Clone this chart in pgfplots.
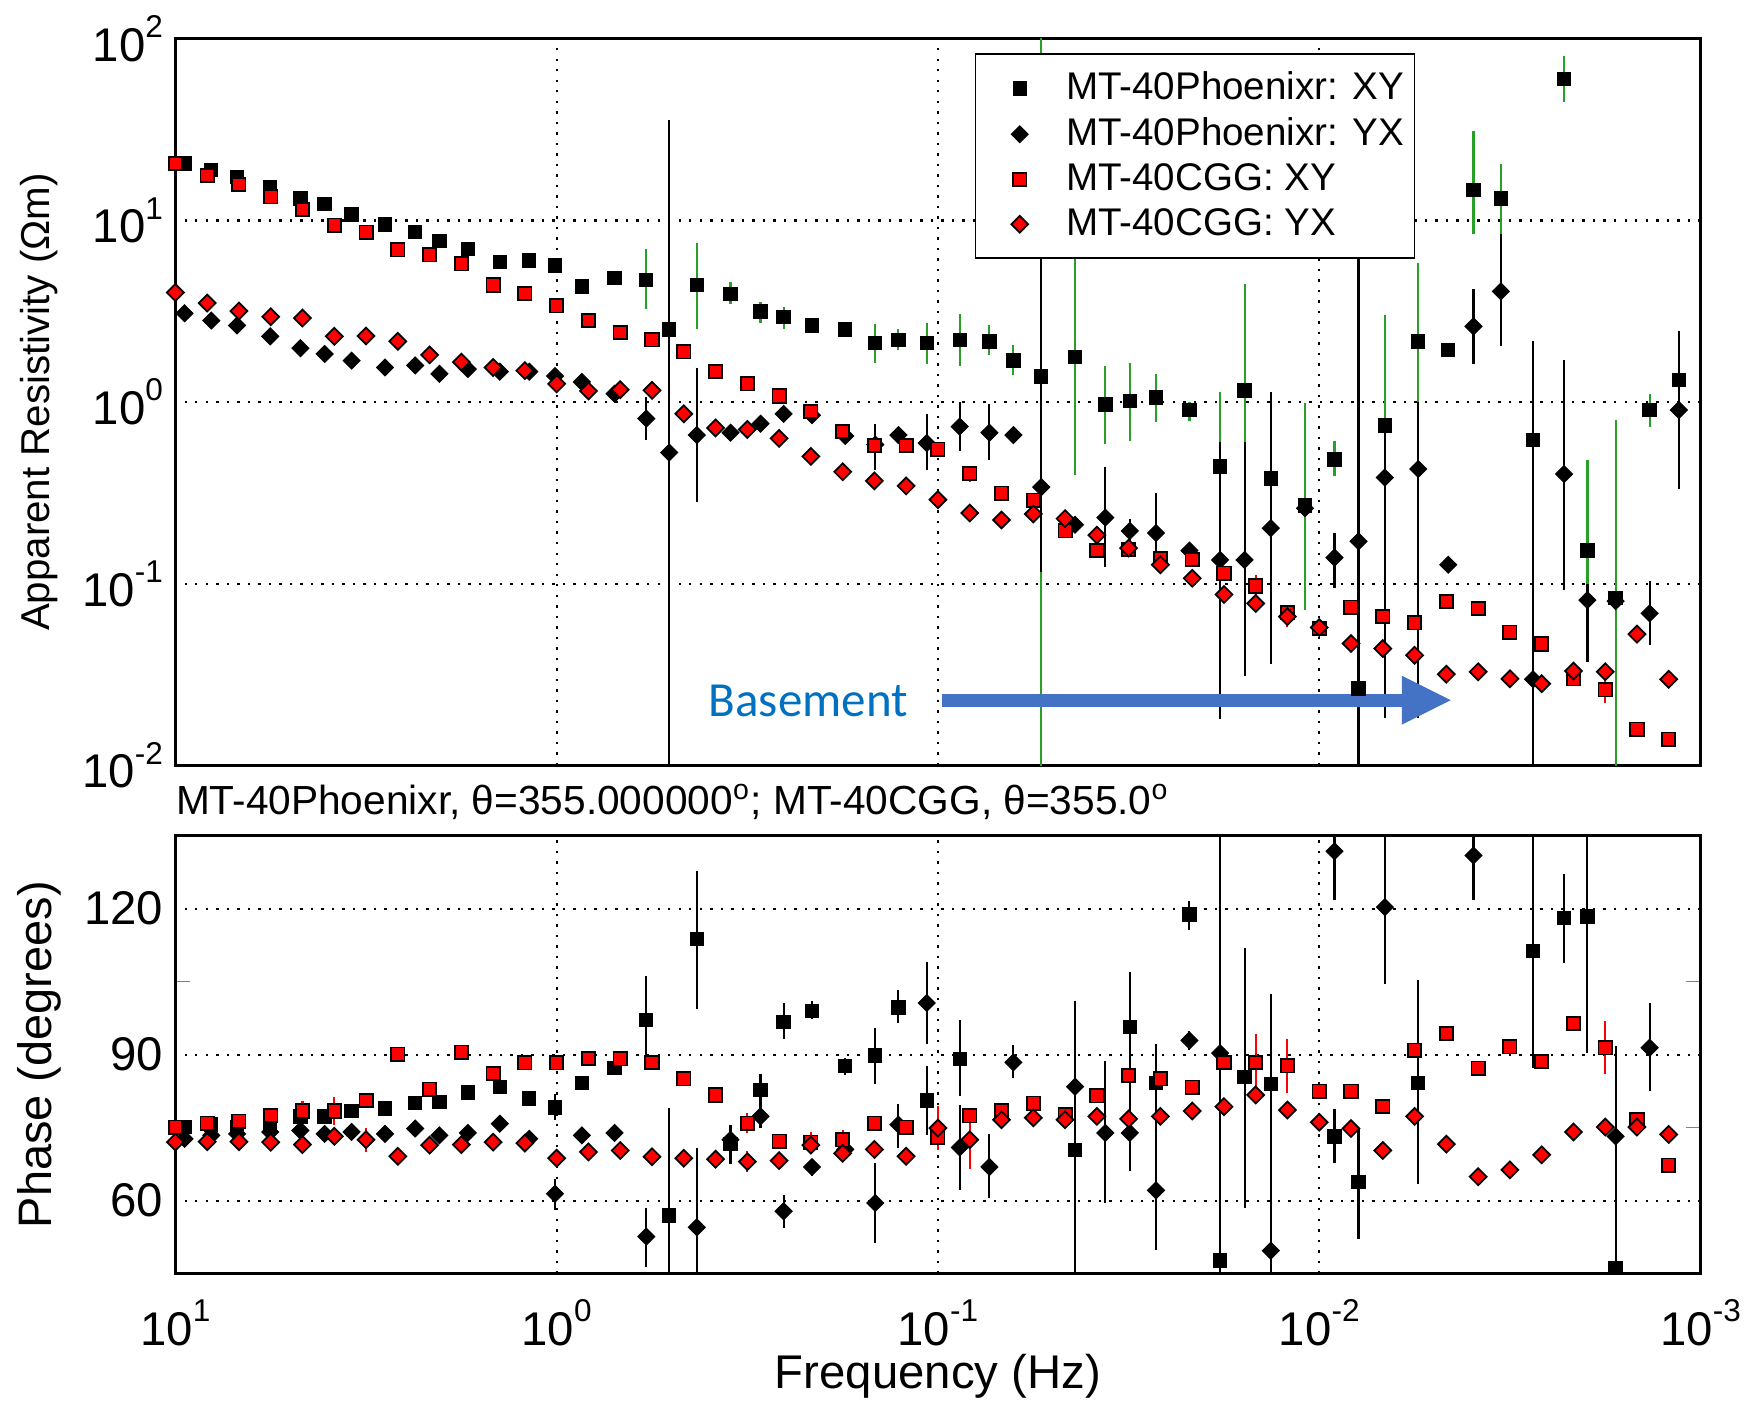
\documentclass[border=0pt]{standalone}
\usepackage{fontspec}
\setmainfont{Liberation Sans}
\newfontfamily\calibri{Carlito}
\usepackage{pgfplots}
\pgfplotsset{compat=1.18}
\usepackage{pgfplotstable}
\usetikzlibrary{arrows.meta}
\definecolor{errgreen}{RGB}{40,160,40}
\definecolor{basetext}{RGB}{0,112,192}
\definecolor{basearrow}{RGB}{68,114,196}
\newcommand{\tp}[1]{10\raisebox{0.5em}{\fontsize{9}{9}\selectfont #1}}

% Phoenix (black): f, rho XY (lo,hi), rho YX (lo,hi), phase XY (lo,hi), phase YX (lo,hi)
\pgfplotstableread{
f rxy rxylo rxyhi ryx ryxlo ryxhi pxy pxylo pxyhi pyx pyxlo pyxhi
9.46 20.6 20.6 20.6 3.08 3.08 3.08 75.1 75.1 75.1 72.7 72.7 72.7
8.05 19.0 19.0 19.0 2.81 2.81 2.81 75.6 75.6 75.6 73.4 73.4 73.4
6.89 17.3 17.3 17.3 2.64 2.64 2.64 75.1 75.1 75.1 73.7 73.7 73.7
5.64 15.2 15.2 15.2 2.30 2.30 2.30 75.8 75.8 75.8 74.1 74.1 74.1
4.70 13.2 13.2 13.2 1.98 1.98 1.98 77.3 77.3 77.3 74.4 74.4 74.4
4.06 12.3 12.3 12.3 1.84 1.84 1.84 77.3 77.3 77.3 73.7 73.7 73.7
3.45 10.8 10.8 10.8 1.69 1.69 1.69 78.4 78.4 78.4 74.1 74.1 74.1
2.82 9.48 9.48 9.48 1.55 1.55 1.55 78.9 78.9 78.9 73.7 73.7 73.7
2.35 8.67 8.67 8.67 1.59 1.59 1.59 80.0 80.0 80.0 74.8 74.8 74.8
2.03 7.73 7.73 7.73 1.43 1.43 1.43 80.3 80.3 80.3 73.4 73.4 73.4
1.71 6.95 6.95 6.95 1.52 1.52 1.52 82.2 82.2 82.2 73.9 73.9 73.9
1.41 5.91 5.91 5.91 1.47 1.47 1.47 83.3 83.3 83.3 75.8 75.8 75.8
1.18 6.01 6.01 6.01 1.47 1.47 1.47 81.0 81.0 81.0 72.7 72.7 72.7
1.01 5.66 5.66 5.66 1.39 1.39 1.39 79.1 76.5 82.0 61.4 58.1 64.4
0.859 4.33 4.33 4.33 1.29 1.29 1.29 84.2 84.2 84.2 73.4 73.4 73.4
0.705 4.82 4.82 4.82 1.11 1.11 1.11 87.2 87.2 87.2 73.9 73.9 73.9
0.582 4.71 3.27 6.98 0.811 0.62 1.06 97.1 88.3 106.1 52.6 46.4 58.5
0.507 2.51 2.51 2.51 0.527 0.001 35.7 56.9 40 79.1 nan nan nan
0.429 4.41 2.53 7.50 0.658 0.28 1.54 113.7 99.4 127.8 54.5 40 70.9
0.350 3.94 3.45 4.59 0.678 0.678 0.678 71.6 67.5 75.6 72.5 72.5 72.5
0.292 3.15 2.73 3.57 0.760 0.760 0.760 82.7 78.5 86.0 77.3 74.9 80.0
0.254 2.95 2.53 3.35 0.861 0.861 0.861 96.7 93.1 100.7 57.8 54.3 61.2
0.214 2.64 2.64 2.64 0.846 0.846 0.846 99.0 97.4 101.1 66.9 65.0 68.5
0.175 2.51 2.51 2.51 0.650 0.650 0.650 87.6 85.8 89.2 70.5 70.5 70.5
0.146 2.11 1.65 2.69 0.583 0.42 0.76 89.8 84.0 95.5 59.5 51.3 67.8
0.127 2.20 1.93 2.51 0.658 0.658 0.658 99.7 96.4 103.3 75.6 70.7 79.8
0.107 2.11 1.62 2.73 0.594 0.42 0.86 80.6 73.4 87.6 100.6 92.1 109.1
0.0877 2.20 1.58 3.06 0.733 0.54 1.0 89.1 81.5 97.1 70.9 62.1 79.6
0.0733 2.15 1.82 2.64 0.678 0.48 0.97 nan nan nan 66.9 60.6 73.7
0.0634 1.69 1.41 2.07 0.658 0.658 0.658 nan nan nan 88.4 85.2 91.9
0.0536 1.38 0.001 200 0.340 0.116 6.78 nan nan nan nan nan nan
0.0437 1.77 0.395 6.78 0.211 0.211 0.211 70.4 40 101.1 83.4 83.4 83.4
0.0364 0.971 0.59 1.57 0.231 0.123 0.44 nan nan nan 73.9 59.5 88.6
0.0314 1.01 0.609 1.64 0.195 0.16 0.226 95.7 84.0 107.0 73.9 66.1 84.0
0.0268 1.06 0.78 1.43 0.190 0.123 0.316 84.2 84.2 92.2 62.1 49.8 84.2
0.0219 0.904 0.79 1.0 0.152 0.152 0.152 118.8 115.5 121.5 92.9 91.0 94.8
0.0182 0.441 0.25 1.14 0.135 0.018 0.6 47.7 40 140 90.3 90.3 90.3
0.0157 1.16 0.6 4.47 0.135 0.031 0.6 85.4 58.5 112.0 nan nan nan
0.0134 0.379 0.379 0.379 0.202 0.036 1.14 84.0 84.0 102.5 49.7 40 84.0
0.0109 0.269 0.072 0.99 0.26 0.26 0.26 nan nan nan nan nan nan
0.00912 0.482 0.39 0.61 0.139 0.095 0.19 73.2 67.8 78.8 131.8 121.7 140
0.00789 0.0265 0.0265 0.0265 0.171 0.001 6.8 63.8 52.2 74.8 nan nan nan
0.00673 0.741 0.0182 3.02 0.384 0.0182 0.74 nan nan nan 120.3 104.5 140
0.00550 2.15 1.0 5.84 0.428 0.0182 1.0 84.2 63.5 105.4 nan nan nan
0.00459 1.93 1.93 1.93 0.127 0.127 0.127 nan nan nan nan nan nan
0.00394 14.7 8.37 31.2 2.61 1.61 4.20 nan nan nan 130.9 121.7 140
0.00334 13.2 8.37 20.5 4.07 2.03 8.37 nan nan nan nan nan nan
0.00275 0.620 0.620 0.620 0.0297 0.001 2.18 111.3 87.2 140 nan nan nan
0.00228 60.1 45 81 0.401 0.0925 1.71 118.1 108.9 127.1 nan nan nan
0.00198 0.152 0.1 0.48 0.0811 0.037 0.1 118.4 90.3 140 nan nan nan
0.00167 0.0836 0.001 0.80 0.08 0.08 0.08 46.1 40 91.7 73.2 73.2 73.2
0.00136 0.904 0.73 1.11 0.0686 0.046 0.103 nan nan nan 91.4 82.5 100.7
0.00114 1.32 1.32 1.32 0.904 0.33 2.45 nan nan nan nan nan nan
}\phx

% CGG (red): f, rho XY, rho YX, errors, phase XY, phase YX, errors
\pgfplotstableread{
f rxy exy ryx eyx pxy epxy pyx epyx
10 20.6 0 4.01 0 75.1 0 72.0 0
8.254 17.7 0 3.51 0 75.9 0 72.1 0
6.813 15.8 0 3.17 0 76.3 0 72.1 0
5.623 13.5 0 2.95 0 77.5 0 72.0 0
4.642 11.5 0 2.90 0 78.4 2.0 71.5 0
3.831 9.42 0.4 2.30 0 78.4 2.8 73.2 0
3.162 8.61 0 2.31 0 80.6 0 72.5 2.5
2.610 6.90 0 2.16 0 90.1 0 69.1 0
2.154 6.46 0 1.82 0 82.9 0 71.4 0
1.778 5.77 0 1.66 0 90.5 0 71.5 0
1.468 4.41 0 1.55 0 86.1 0 72.0 0
1.212 3.96 0 1.49 0 88.3 0 71.8 0
1 3.39 0 1.26 0 88.3 0 68.7 0
0.8254 2.81 0 1.15 0 89.2 0 70.0 0
0.6813 2.41 0 1.17 0 89.1 0 70.3 0
0.5623 2.20 0 1.16 0 88.4 0 69.0 0
0.4642 1.89 0 0.861 0 85.0 0 68.7 0
0.3831 1.47 0 0.720 0 81.7 0 68.5 0
0.3162 1.26 0 0.706 0 75.9 2.0 68.0 2.2
0.2610 1.08 0 0.631 0 72.2 0 68.2 0
0.2154 0.888 0 0.502 0 72.0 2.0 71.4 0
0.1778 0.690 0 0.413 0 72.5 2.0 69.7 0
0.1468 0.577 0 0.368 0 75.9 0 70.5 0
0.1212 0.577 0 0.345 0 75.1 0 69.1 0
0.1 0.550 0.03 0.290 0 73.0 0 74.9 4.5
0.08254 0.403 0.04 0.245 0 77.4 0 72.5 6.0
0.06813 0.315 0 0.224 0 78.4 0 76.6 0
0.05623 0.288 0 0.242 0 80.0 1.0 77.0 0
0.04642 0.195 0 0.228 0 77.7 0 76.6 0
0.03831 0.152 0 0.185 0 81.5 0 77.3 0
0.03162 0.154 0 0.157 0 85.7 0 76.8 0
0.02610 0.137 0 0.127 0 85.0 0 77.3 0
0.02154 0.136 0 0.107 0 83.3 0 78.4 0
0.01778 0.114 0 0.0871 0 88.4 0 79.3 0
0.01468 0.097 0.015 0.0778 0 88.4 5.8 81.7 0
0.01212 0.069 0 0.0658 0.008 87.7 5.5 78.6 0
0.01 0.0567 0 0.0573 0 82.5 0 76.1 0
0.008254 0.0741 0 0.0468 0 82.5 0 74.8 0
0.006813 0.0658 0 0.0439 0 79.3 0 70.3 0
0.005623 0.0608 0 0.0403 0 90.9 0 77.3 0
0.004642 0.0796 0 0.0317 0 94.3 0 71.6 0
0.003831 0.0728 0 0.0327 0 87.2 0 64.9 0
0.003162 0.0540 0 0.0299 0 91.6 0 66.3 0
0.002610 0.0465 0 0.0281 0 88.6 0 69.4 0
0.002154 0.0299 0 0.0330 0 96.4 0 74.1 0
0.001778 0.0260 0.004 0.0327 0 91.4 5.4 75.1 0
0.001468 0.0158 0 0.0527 0 76.6 0 75.1 0
0.001212 0.0139 0 0.0297 0 67.3 0 73.6 0
}\cgg

\begin{document}
\begin{tikzpicture}
\begin{axis}[
  at={(0pt,0pt)}, anchor=south west,
  scale only axis, width=435.3pt, height=207.3pt,
  xmode=log, ymode=log, x dir=reverse,
  xmin=0.001, xmax=10, ymin=0.01, ymax=100,
  xtick={10,1,0.1,0.01,0.001}, xticklabels={},
  ytick={0.01,0.1,1,10,100},
  yticklabels={\tp{-2},\tp{-1},\tp{0},\tp{1},\tp{2}},
  minor xtick={}, minor ytick={},
  xmajorgrids, ymajorgrids,
  grid style={black, dash pattern=on 0.7pt off 2.3pt, line width=0.6pt},
  major tick length=0pt, minor tick length=0pt,
  axis line style={line width=0.9pt},
  tick label style={font=\fontsize{13.5}{15}\selectfont},
  ylabel={Apparent Resistivity (Ωm)},
  ylabel style={at={(axis description cs:-0.0894,0.5)}, anchor=center, font=\fontsize{11.5}{13}\selectfont},
  legend style={at={(0.524,0.98)}, anchor=north west, draw=black, line width=0.5pt,
    font=\fontsize{11}{13}\selectfont, inner xsep=1pt, inner ysep=3pt, row sep=-0.4pt, column sep=4.4pt},
  legend cell align=left,
  legend image code/.code={\path (0pt,0pt) (18pt,0pt); \draw[#1] plot coordinates {(11.4pt,0pt)};},
]
\addplot[black, only marks, mark=square*, mark size=1.9pt, mark options={fill=black, draw=black, line width=0.3pt},
  error bars/.cd, y dir=both, y explicit, error mark=none, error bar style={errgreen, line width=0.6pt}]
  table[x=f, y=rxy, y error plus expr=\thisrow{rxyhi}-\thisrow{rxy}, y error minus expr=\thisrow{rxy}-\thisrow{rxylo}] {\phx};
\addplot[black, only marks, mark=square*, mark size=1.7pt, mark options={rotate=45, fill=black, draw=black, line width=0.3pt},
  error bars/.cd, y dir=both, y explicit, error mark=none, error bar style={black, line width=0.6pt}]
  table[x=f, y=ryx, y error plus expr=\thisrow{ryxhi}-\thisrow{ryx}, y error minus expr=\thisrow{ryx}-\thisrow{ryxlo}] {\phx};
\addplot[red, only marks, mark=square*, mark size=1.9pt, mark options={fill=red, draw=black, line width=0.5pt},
  error bars/.cd, y dir=both, y explicit, error mark=none, error bar style={red, line width=0.6pt}]
  table[x=f, y=rxy, y error=exy] {\cgg};
\addplot[red, only marks, mark=square*, mark size=1.7pt, mark options={rotate=45, fill=red, draw=black, line width=0.5pt},
  error bars/.cd, y dir=both, y explicit, error mark=none, error bar style={red, line width=0.6pt}]
  table[x=f, y=ryx, y error=eyx] {\cgg};
\legend{MT-40Phoenixr: XY, MT-40Phoenixr: YX, MT-40CGG: XY, MT-40CGG: YX}
\node[font=\calibri\fontsize{14}{16}\selectfont, text=basetext] at (axis cs:0.2188,0.0226) {Basement};
\draw[basearrow, line width=3.8pt, -{Triangle[length=14.4pt, width=12.8pt]}] (axis cs:0.0977,0.0228) -- (axis cs:0.00448,0.0228);
\end{axis}

\begin{axis}[
  at={(0pt,-20.1pt)}, anchor=north west,
  scale only axis, width=435.3pt, height=125pt,
  xmode=log, x dir=reverse,
  xmin=0.001, xmax=10, ymin=45, ymax=135,
  xtick={10,1,0.1,0.01,0.001},
  xticklabels={\tp{1},\tp{0},\tp{-1},\tp{-2},\tp{-3}},
  xticklabel style={yshift=-4pt},
  minor xtick={},
  ytick={60,90,120}, yticklabels={60,90,120},
  minor ytick={75,105},
  xmajorgrids, ymajorgrids,
  grid style={black, dash pattern=on 0.7pt off 2.3pt, line width=0.6pt},
  major tick length=0pt, minor tick length=4.3pt, tick align=inside,
  axis line style={line width=0.9pt},
  tick label style={font=\fontsize{13.5}{15}\selectfont},
  xlabel={Frequency (Hz)},
  xlabel style={at={(axis description cs:0.5,-0.2336)}, anchor=center, font=\fontsize{13.5}{15}\selectfont},
  ylabel={Phase (degrees)},
  ylabel style={at={(axis description cs:-0.0894,0.5)}, anchor=center, font=\fontsize{13.4}{15}\selectfont},
]
\addplot[black, only marks, mark=square*, mark size=1.9pt, mark options={fill=black, draw=black, line width=0.3pt},
  error bars/.cd, y dir=both, y explicit, error mark=none, error bar style={black, line width=0.6pt}]
  table[x=f, y=pxy, y error plus expr=\thisrow{pxyhi}-\thisrow{pxy}, y error minus expr=\thisrow{pxy}-\thisrow{pxylo}] {\phx};
\addplot[black, only marks, mark=square*, mark size=1.7pt, mark options={rotate=45, fill=black, draw=black, line width=0.3pt},
  error bars/.cd, y dir=both, y explicit, error mark=none, error bar style={black, line width=0.6pt}]
  table[x=f, y=pyx, y error plus expr=\thisrow{pyxhi}-\thisrow{pyx}, y error minus expr=\thisrow{pyx}-\thisrow{pyxlo}] {\phx};
\addplot[red, only marks, mark=square*, mark size=1.9pt, mark options={fill=red, draw=black, line width=0.5pt},
  error bars/.cd, y dir=both, y explicit, error mark=none, error bar style={red, line width=0.6pt}]
  table[x=f, y=pxy, y error=epxy] {\cgg};
\addplot[red, only marks, mark=square*, mark size=1.7pt, mark options={rotate=45, fill=red, draw=black, line width=0.5pt},
  error bars/.cd, y dir=both, y explicit, error mark=none, error bar style={red, line width=0.6pt}]
  table[x=f, y=pyx, y error=epyx] {\cgg};
\end{axis}

\node[anchor=west, inner sep=0pt, font=\fontsize{11.6}{13}\selectfont] at (0pt,-10.5pt)
  {MT-40Phoenixr, θ=355.000000\textsuperscript{o}; MT-40CGG, θ=355.0\textsuperscript{o}};

\pgfresetboundingbox
\path[use as bounding box] (-50.06pt,-182.6pt) rectangle (450.0pt,218.4pt);
\end{tikzpicture}
\end{document}
